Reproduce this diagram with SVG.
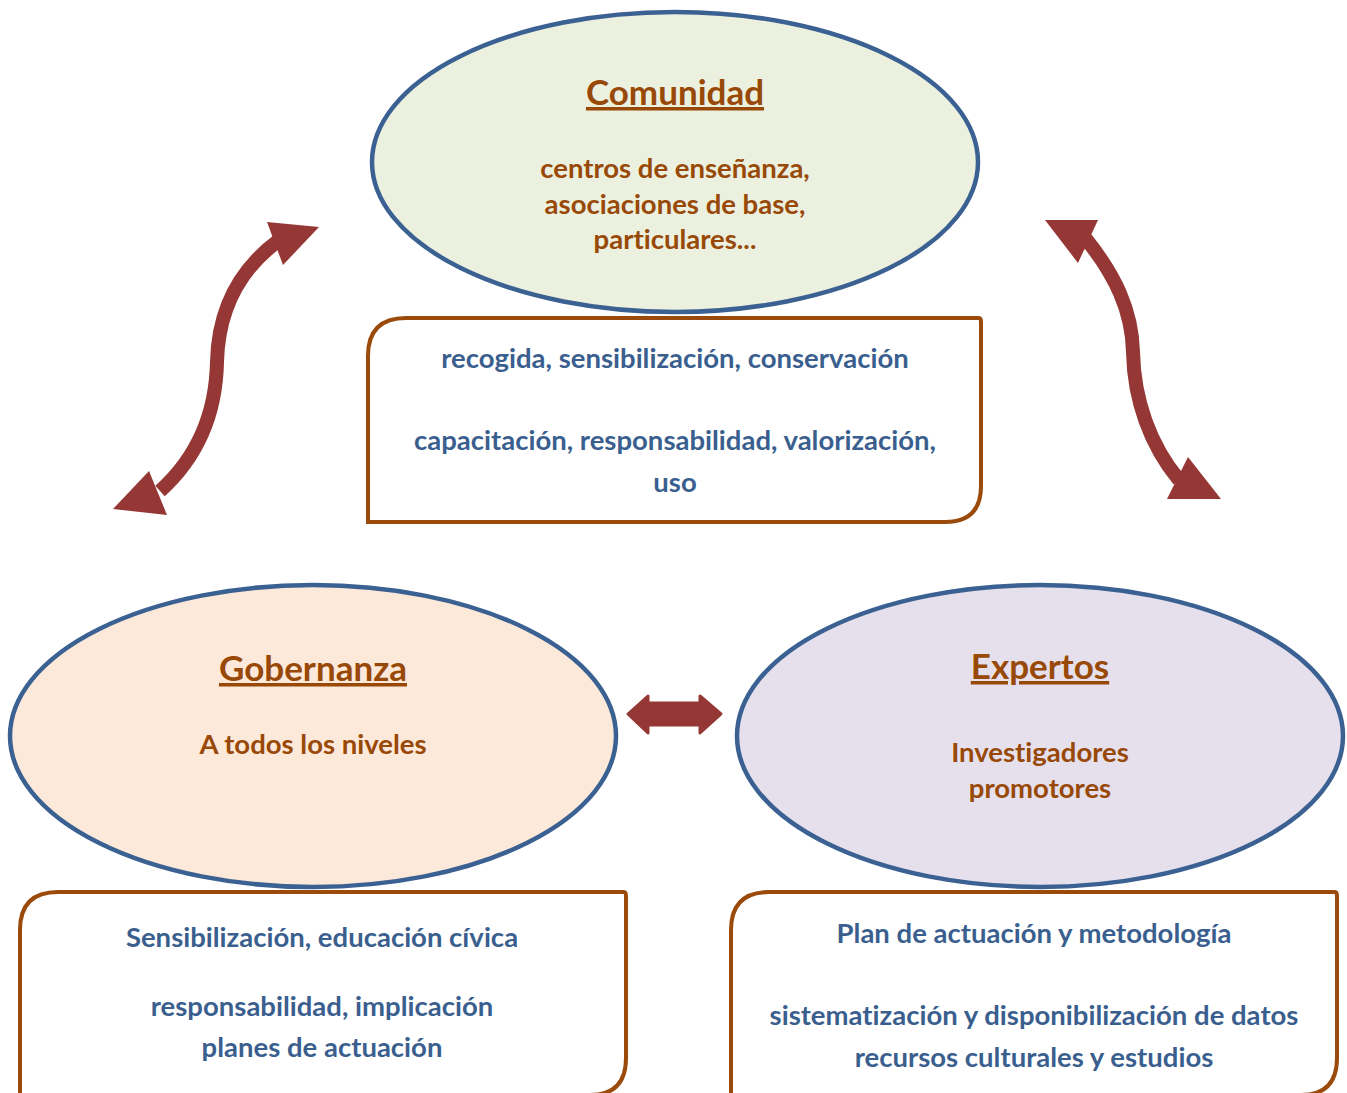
<svg xmlns="http://www.w3.org/2000/svg" width="1347" height="1093" viewBox="0 0 1347 1093">
<style>
.ell{stroke:#3B6193;stroke-width:4.5}
.box{fill:#fff;stroke:#9A4A0A;stroke-width:4}
.t{font-family:Lato,"Liberation Sans",sans-serif;font-weight:bold;text-anchor:middle;font-variant-ligatures:none}
.title{fill:#984807;font-size:35px;text-decoration:underline}
.sub{fill:#984807;font-size:27.5px}
.bt{fill:#3A5F8F;font-size:27.5px}
.arr{fill:#953735}
.shaft{fill:none;stroke:#953735;stroke-width:14}
</style>
<g id="comunidad">
<ellipse class="ell" cx="675" cy="162" rx="303" ry="150" fill="#EBF1DE"/>
<text class="t title" x="675" y="105">Comunidad</text>
<text class="t sub" x="675" y="178">centros de enseñanza,</text>
<text class="t sub" x="675" y="214">asociaciones de base,</text>
<text class="t sub" x="675" y="249">particulares...</text>
</g>
<g id="comunidad-box">
<path class="box" d="M368,356 Q368,318 406,318 L979,318 Q981,318 981,322 L981,486 Q981,522 945,522 L368,522 Z"/>
<text class="t bt" x="675" y="368">recogida, sensibilización, conservación</text>
<text class="t bt" x="675" y="450">capacitación, responsabilidad, valorización,</text>
<text class="t bt" x="675" y="492">uso</text>
</g>
<g id="gobernanza">
<ellipse class="ell" cx="313" cy="736" rx="303" ry="151" fill="#FDE9D9"/>
<text class="t title" x="313" y="681">Gobernanza</text>
<text class="t sub" x="313" y="754">A todos los niveles</text>
</g>
<g id="gobernanza-box">
<path class="box" d="M20,1100 L20,930 Q20,892 58,892 L624,892 Q626,892 626,896 L626,1058 Q626,1095 590,1095"/>
<text class="t bt" x="322" y="947">Sensibilización, educación cívica</text>
<text class="t bt" x="322" y="1016">responsabilidad, implicación</text>
<text class="t bt" x="322" y="1057">planes de actuación</text>
</g>
<g id="expertos">
<ellipse class="ell" cx="1040" cy="736" rx="303" ry="151" fill="#E5E0EC"/>
<text class="t title" x="1040" y="679">Expertos</text>
<text class="t sub" x="1040" y="762">Investigadores</text>
<text class="t sub" x="1040" y="798">promotores</text>
</g>
<g id="expertos-box">
<path class="box" d="M731,1100 L731,930 Q731,892 769,892 L1335,892 Q1337,892 1337,896 L1337,1058 Q1337,1095 1301,1095"/>
<text class="t bt" x="1034" y="943">Plan de actuación y metodología</text>
<text class="t bt" x="1034" y="1025">sistematización y disponibilización de datos</text>
<text class="t bt" x="1034" y="1067">recursos culturales y estudios</text>
</g>
<g id="connectors">
<path class="shaft" d="M278,241 C232,275 218,320 217,362 C216,410 200,455 160,491"/>
<polygon class="arr" points="267,222 319,227 283,265"/>
<polygon class="arr" points="113,509 149,471 167,515"/>
<path class="shaft" d="M1086,239 C1115,275 1132,310 1133,352 C1134,400 1150,445 1179,480"/>
<polygon class="arr" points="1045,220 1098,220 1078,263"/>
<polygon class="arr" points="1221,499 1167,499 1188,457"/>
<polygon class="arr" stroke="#953735" stroke-width="3" stroke-linejoin="round" points="628,714 648,696 648,703 700,703 700,696 721,714 700,733 700,725 648,725 648,733"/>
</g>
</svg>
